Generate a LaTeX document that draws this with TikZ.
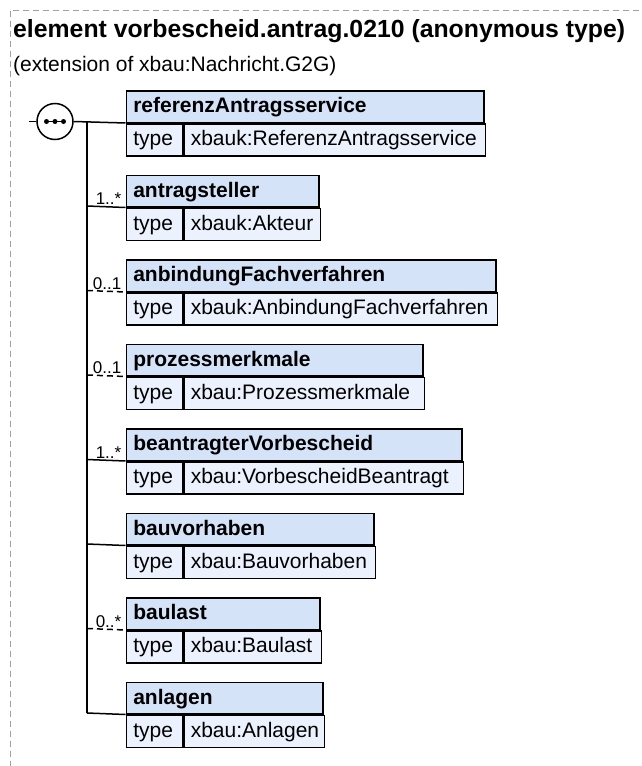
\documentclass[tikz,border=0pt]{standalone}
\usepackage{fontspec}
\setmainfont{Liberation Sans}
\definecolor{hdrblue}{RGB}{212,227,248}
\definecolor{rowblue}{RGB}{235,242,253}
\definecolor{framegray}{RGB}{160,160,160}
\newcommand{\elbox}[5]{%
  \pgfmathsetmacro{\hw}{#3-125.5-14}%
  \pgfmathsetmacro{\vw}{#3-181.5-14}%
  \node[hdr, text width=\hw pt] (#1h) at (125.5,#2) {#4};
  \node[cell, text width=42pt] (#1k) at (#1h.south west) {type};
  \node[cell, text width=\vw pt] (#1v) at (#1k.north east) {#5};
}
\begin{document}
\begin{tikzpicture}[x=1pt,y=-1pt,
  hdr/.style={draw=black, line width=1.5pt, fill=hdrblue, anchor=north west,
    text height=16.5pt, text depth=4pt, inner xsep=7pt, inner ysep=5.5pt, align=left,
    font=\bfseries\fontsize{21}{24}\selectfont},
  cell/.style={draw=black, line width=1.5pt, fill=rowblue, anchor=north west,
    text height=16.5pt, text depth=4.5pt, inner xsep=7pt, inner ysep=5.5pt, align=left,
    font=\fontsize{21}{24}\selectfont},
  conn/.style={line width=1.5pt, black},
  optconn/.style={line width=1.5pt, black, dash pattern=on 6pt off 4pt},
  occ/.style={anchor=base east, inner sep=0pt, font=\fontsize{17}{20}\selectfont},
  dotc/.style={circle, fill=black, inner sep=0pt, minimum size=5pt}]
\useasboundingbox (0,0) rectangle (641,766);
\clip (0,0) rectangle (641,766);
% frame
\draw[framegray, line width=1pt, dash pattern=on 6pt off 4pt] (10.5,10.5) rectangle (700,820);
% title
\node[anchor=base west, inner sep=0pt, font=\bfseries\fontsize{24.8}{28}\selectfont] (title) at (13,37.5) {element vorbescheid.antrag.0210 (anonymous type)};
\node[anchor=base west, inner sep=0pt, font=\fontsize{21}{24}\selectfont] (subtitle) at (13,71.5) {(extension of xbau:Nachricht.G2G)};
% boxes
\elbox{a}{90}{483}{referenzAntragsservice}{xbauk:ReferenzAntragsservice}
\elbox{b}{174.5}{318}{antragsteller}{xbauk:Akteur}
\elbox{c}{259}{495}{anbindungFachverfahren}{xbauk:AnbindungFachverfahren}
\elbox{d}{343.5}{422}{prozessmerkmale}{xbau:Prozessmerkmale}
\elbox{e}{428}{461}{beantragterVorbescheid}{xbau:VorbescheidBeantragt}
\elbox{f}{512.5}{373}{bauvorhaben}{xbau:Bauvorhaben}
\elbox{g}{597}{319}{baulast}{xbau:Baulast}
\elbox{h}{681.5}{322}{anlagen}{xbau:Anlagen}
% sequence compositor
\coordinate (stub) at (29,121.5);
\node[circle, draw=black, fill=white, line width=1.5pt, minimum size=36pt, inner sep=0pt] (seq) at (55,121.5) {};
\draw[conn] (stub) -- (seq.west);
\node[dotc] (d1) at (46.5,121.5) {};
\node[dotc] (d2) at (55,121.5) {};
\node[dotc] (d3) at (63.5,121.5) {};
\draw[line width=1.2pt] (d1.center) -- (d3.center);
\draw[conn] (seq.east) -- (ah.south west);
% trunk
\coordinate (ja) at (87,121.5);
\coordinate (jb) at (87,206);
\coordinate (jc) at (87,290.5);
\coordinate (jd) at (87,375);
\coordinate (je) at (87,459.5);
\coordinate (jf) at (87,544);
\coordinate (jg) at (87,628.5);
\coordinate (jh) at (87,713);
\draw[conn] (ja) -- (jh);
\draw[conn] (jb) -- (bh.south west);
\draw[optconn] (jc) -- (ch.south west);
\draw[optconn] (jd) -- (dh.south west);
\draw[conn] (je) -- (eh.south west);
\draw[conn] (jf) -- (fh.south west);
\draw[optconn] (jg) -- (gh.south west);
\draw[conn] (jh) -- (hh.south west);
% occurrence labels
\node[occ] (ob) at ([xshift=-4pt,yshift=3pt]bh.south west) {1..*};
\node[occ] (oc) at ([xshift=-4pt,yshift=3pt]ch.south west) {0..1};
\node[occ] (od) at ([xshift=-4pt,yshift=3pt]dh.south west) {0..1};
\node[occ] (oe) at ([xshift=-4pt,yshift=3pt]eh.south west) {1..*};
\node[occ] (og) at ([xshift=-4pt,yshift=3pt]gh.south west) {0..*};
\end{tikzpicture}
\end{document}
